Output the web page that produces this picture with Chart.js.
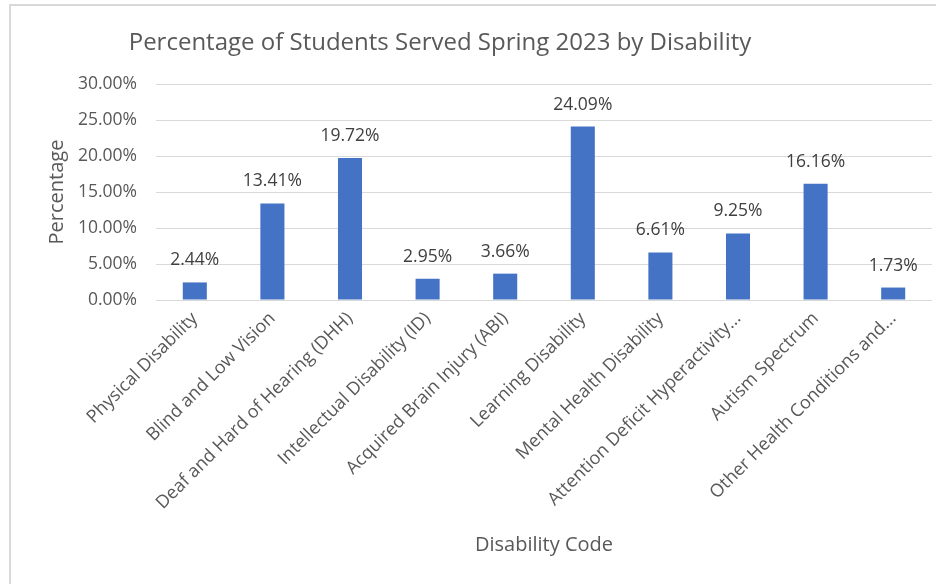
<!DOCTYPE html>
<html>
<head>
<meta charset="utf-8">
<script src="https://cdn.jsdelivr.net/npm/chart.js@4/dist/chart.umd.min.js"></script>
<style>
  body { margin: 0; background: #fff; }
  .wrap { position: relative; width: 936px; height: 584px; overflow: hidden; }
  .frame { position: absolute; left: 9px; top: 4px; width: 940px; height: 600px; border: 2px solid #d9d9d9; box-sizing: border-box; }
  canvas { position: absolute; left: 0; top: 0; }
</style>
</head>
<body>
<div class="wrap">
  <div class="frame"></div>
  <canvas class="barChart" width="936" height="584"></canvas>
</div>
<script>
const chartTitle = 'Percentage of Students Served Spring 2023 by Disability';
const categories = [
  'Physical Disability',
  'Blind and Low Vision',
  'Deaf and Hard of Hearing (DHH)',
  'Intellectual Disability (ID)',
  'Acquired Brain Injury (ABI)',
  'Learning Disability',
  'Mental Health Disability',
  'Attention Deficit Hyperactivity...',
  'Autism Spectrum',
  'Other Health Conditions and...'
];
const percentages = [2.44, 13.41, 19.72, 2.95, 3.66, 24.09, 6.61, 9.25, 16.16, 1.73];
const yTicks = [0, 5, 10, 15, 20, 25, 30];

const fontFamily = '"Open Sans", "Noto Sans", sans-serif';
const textGray = '#595959';

// title sits a little left of centre, like the spreadsheet export
const titlePlugin = {
  id: 'sheetTitle',
  afterDraw(chart) {
    const ctx = chart.ctx;
    ctx.save();
    ctx.font = '24px ' + fontFamily;
    ctx.fillStyle = textGray;
    ctx.textAlign = 'center';
    ctx.textBaseline = 'middle';
    ctx.fillText(chartTitle, 440, 43);
    ctx.restore();
  }
};

// value labels above each bar
const valueLabels = {
  id: 'valueLabels',
  afterDatasetsDraw(chart) {
    const ctx = chart.ctx;
    const meta = chart.getDatasetMeta(0);
    ctx.save();
    ctx.font = '17.5px ' + fontFamily;
    ctx.fillStyle = '#404040';
    ctx.textAlign = 'center';
    ctx.textBaseline = 'middle';
    meta.data.forEach((bar, i) => {
      ctx.fillText(percentages[i].toFixed(2) + '%', bar.x, bar.y - 22);
    });
    ctx.restore();
  }
};

let barCanvas = document.querySelector('.barChart').getContext('2d');

let barChart = new Chart(barCanvas, {
  type: 'bar',
  data: {
    labels: categories,
    datasets: [{
      data: percentages,
      backgroundColor: '#4472c4',
      borderWidth: 0,
      barPercentage: 0.31,
      categoryPercentage: 1
    }]
  },
  options: {
    responsive: false,
    animation: false,
    layout: { padding: { top: 84, right: 4, left: 0, bottom: 0 } },
    plugins: {
      legend: { display: false },
      title: { display: false },
      tooltip: { enabled: false }
    },
    scales: {
      x: {
        grid: { display: false, drawTicks: false },
        border: { display: false },
        ticks: {
          color: textGray,
          font: { family: fontFamily, size: 18 },
          maxRotation: 45,
          minRotation: 45,
          autoSkip: false,
          padding: 8
        },
        title: {
          display: true,
          text: 'Disability Code',
          color: textGray,
          font: { family: fontFamily, size: 20 },
          padding: { top: 0, bottom: 27 }
        },
        afterFit(scale) { scale.height = 284; }
      },
      y: {
        min: 0,
        max: 30,
        afterBuildTicks(scale) { scale.ticks = yTicks.map(v => ({ value: v })); },
        grid: { color: '#d9d9d9', lineWidth: 1, drawTicks: false },
        border: { display: false },
        ticks: {
          color: textGray,
          font: { family: fontFamily, size: 17.5 },
          padding: 19,
          callback: v => v.toFixed(2) + '%'
        },
        title: {
          display: true,
          text: 'Percentage',
          color: textGray,
          font: { family: fontFamily, size: 20 },
          padding: { top: 45, bottom: 0 }
        },
        afterFit(scale) { scale.width = 156; }
      }
    }
  },
  plugins: [titlePlugin, valueLabels]
});
</script>
</body>
</html>
